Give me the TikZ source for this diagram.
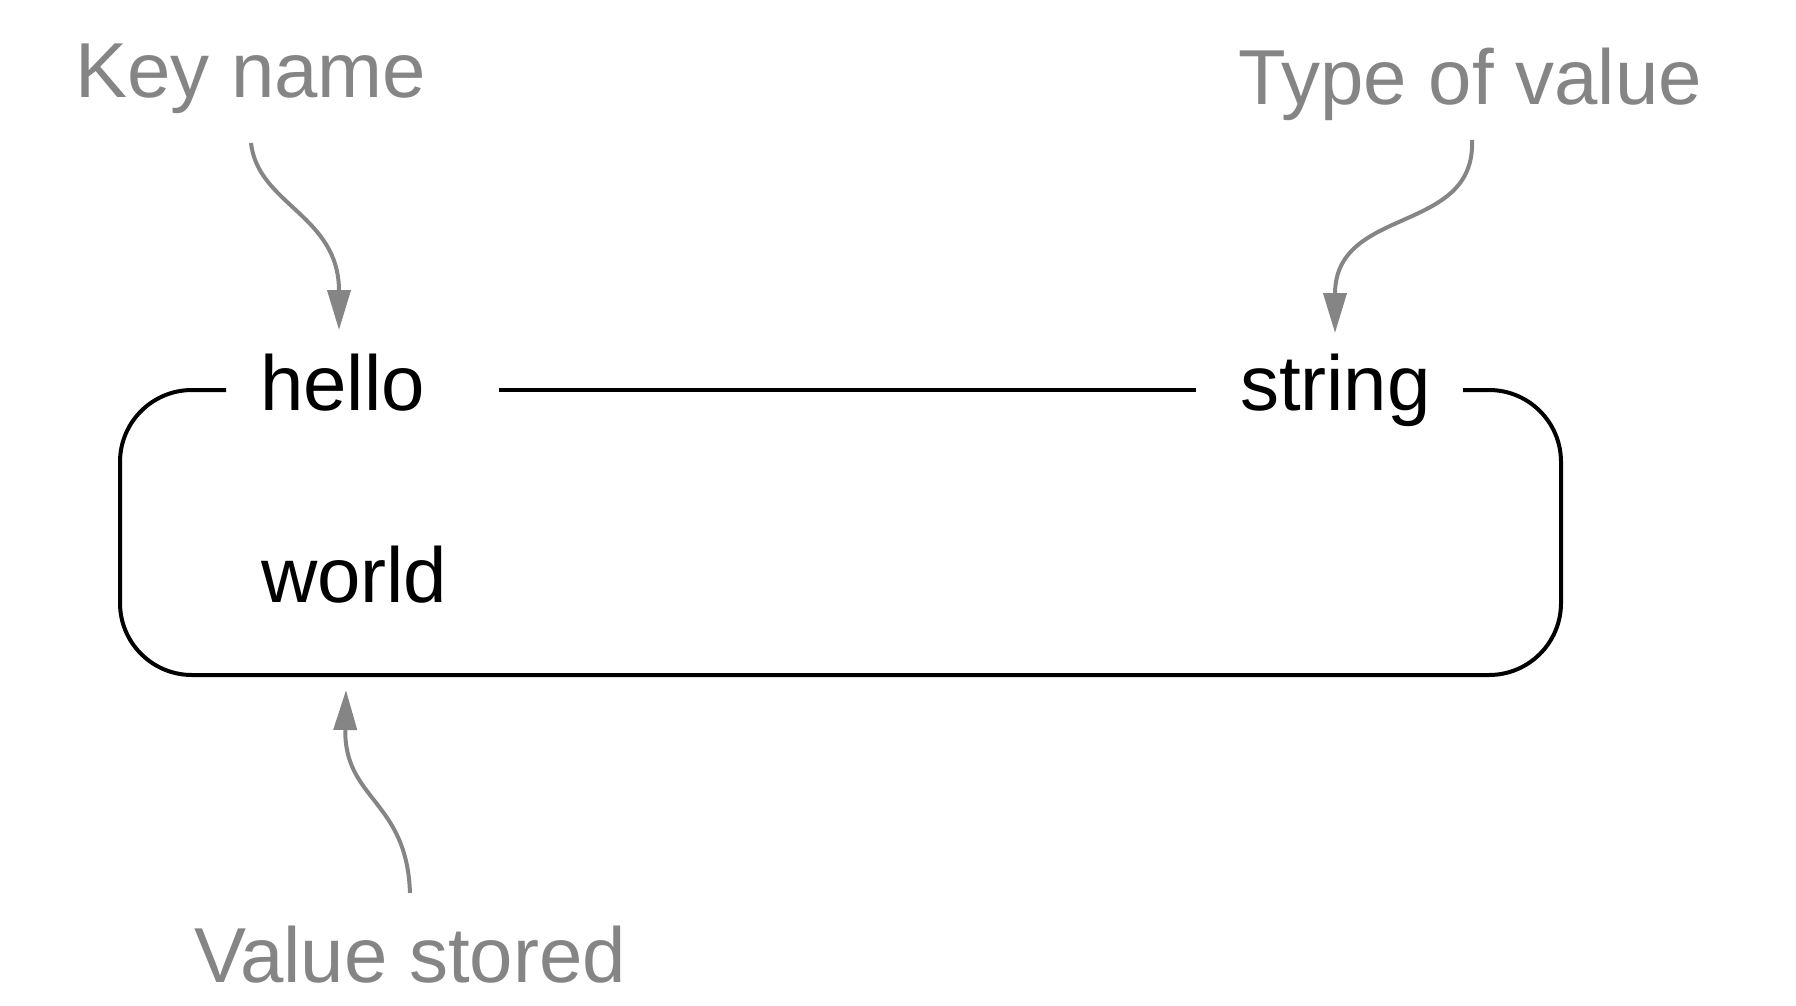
\documentclass[tikz,border=0pt]{standalone}
\usepackage{fontspec}
\setmainfont{Liberation Sans}
\usetikzlibrary{arrows.meta}
\definecolor{lblgray}{HTML}{858585}
\tikzset{
  txt/.style={anchor=base west, inner sep=0pt, outer sep=0pt, font=\fontsize{78}{82}\selectfont},
  lbl/.style={txt, text=lblgray},
  val/.style={txt, text=black},
  boxline/.style={draw=black, line width=4pt},
  garrow/.style={draw=lblgray, line width=4pt, -{Triangle[length=40pt,width=23pt]}},
}
\begin{document}
\begin{tikzpicture}[x=1pt,y=-1pt]
\path[use as bounding box] (0,0) rectangle (1796,1006);

\node[lbl] (keyname) at (75,98) {Key name};
\node[lbl] (typeval) at (1238,105) {Type of value};
\node[lbl] (stored) at (194,982) {Value stored};

\node[val] (hello) at (260,410) {hello};
\node[val] (string) at (1240,410) {string};
\node[val] (world) at (261,602) {world};

% box
\draw[boxline, rounded corners=72pt] (226,390) -- (120,390) -- (120,675)
  -- (1561,675) -- (1561,390) -- (1463,390);
\coordinate (midL) at (499,390);
\coordinate (midR) at (1196,390);
\draw[boxline] (midL) -- (midR);

% arrows
\coordinate (a1s) at (251,143);
\coordinate (a1e) at (339,330);
\draw[garrow] (a1s) .. controls (258,205) and (339,215) .. (a1e);

\coordinate (a2s) at (1472,140);
\coordinate (a2e) at (1335,333);
\draw[garrow] (a2s) .. controls (1476,235) and (1335,205) .. (a2e);

\coordinate (a3s) at (410,893);
\coordinate (a3e) at (346,690);
\draw[garrow] (a3s) .. controls (407,800) and (344,800) .. (a3e);
\end{tikzpicture}
\end{document}
